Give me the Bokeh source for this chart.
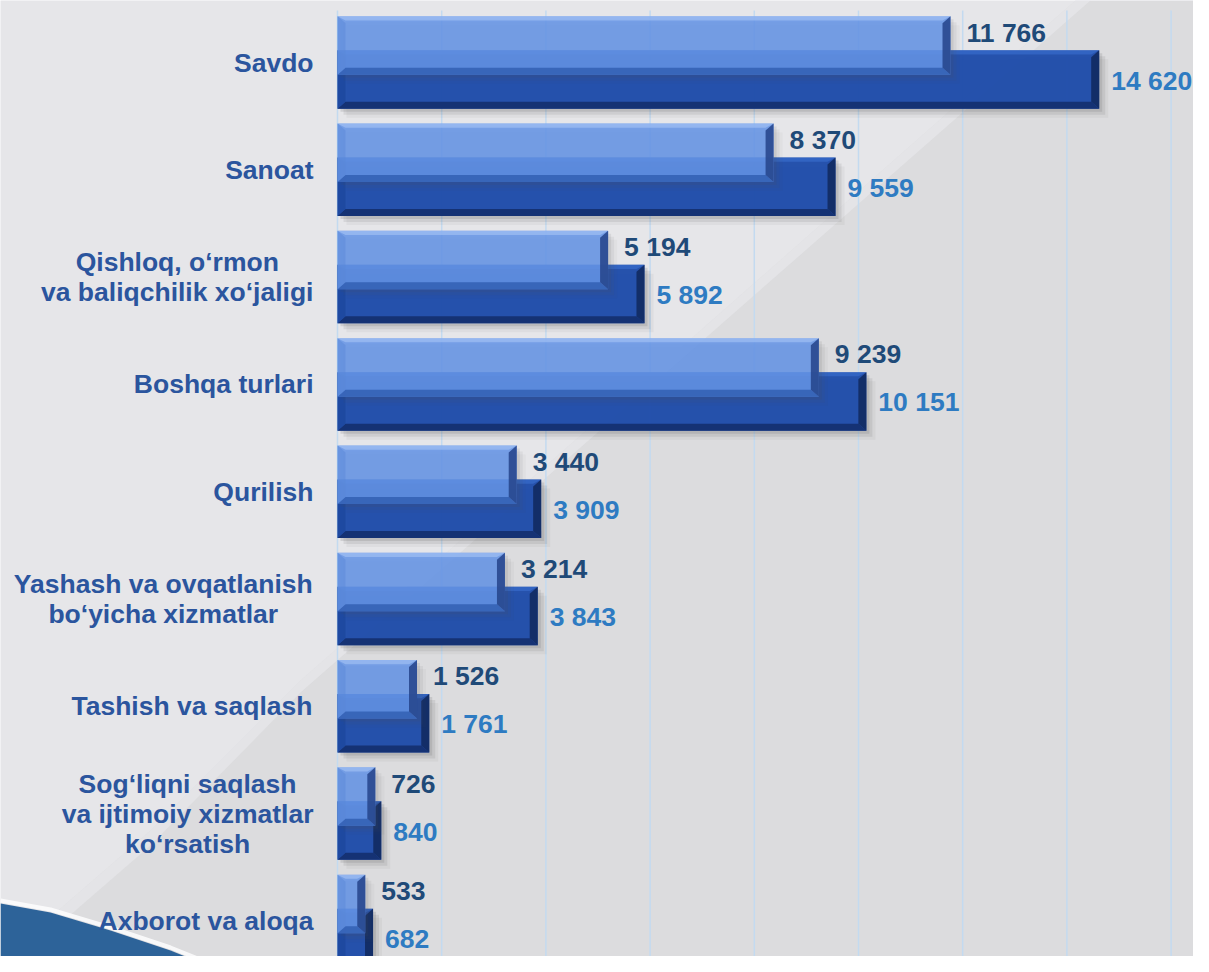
from bokeh.plotting import figure
from bokeh.models import Range1d, ColumnDataSource
from bokeh.core.properties import value
from bokeh.embed import file_html
from bokeh.resources import INLINE

# ---------------- data ----------------
categories = [
    "Savdo",
    "Sanoat",
    "Qishloq, o‘rmon\nva baliqchilik xo‘jaligi",
    "Boshqa turlari",
    "Qurilish",
    "Yashash va ovqatlanish\nbo‘yicha xizmatlar",
    "Tashish va saqlash",
    "Sog‘liqni saqlash\nva ijtimoiy xizmatlar\nko‘rsatish",
    "Axborot va aloqa",
]
series_light = [11766, 8370, 5194, 9239, 3440, 3214, 1526, 726, 533]
series_dark = [14620, 9559, 5892, 10151, 3909, 3843, 1761, 840, 682]
grid_ticks = list(range(0, 16001, 2000))

# ---------------- layout ----------------
W, H = 1193, 956
KX = 0.0521          # px per unit (x)
KY = 107.3           # px per category (y)
X0_PX = 337          # px of value 0 inside the frame
Y0_PX = 62.0         # px of first category centre
XMIN = -X0_PX / KX
XMAX = (W - X0_PX) / KX
YTOP = -Y0_PX / KY
YBOT = (H - Y0_PX) / KY


def dx(px):      # screen px -> data x (decoration only)
    return XMIN + px / KX


def dy(px):      # screen px -> data y (decoration only)
    return YTOP + px / KY


p = figure(width=W, height=H, x_range=Range1d(XMIN, XMAX), y_range=Range1d(YBOT, YTOP),
           output_backend="svg", toolbar_location=None, min_border=0,
           x_axis_location=None, y_axis_location=None)
p.grid.visible = False
p.outline_line_color = None
p.background_fill_color = "#e6e6e9"
p.border_fill_color = "#e6e6e9"

# ---------------- background decoration ----------------
dark_region = [(1075, 0), (1215, 0), (1215, 980), (0, 980), (0, 960), (150, 830), (300, 680), (700, 330)]
p.patch([dx(a) for a, b in dark_region], [dy(b) for a, b in dark_region],
        fill_color="#dcdcde", line_color=None)
streak = [(1075, 0), (1090, 0), (700, 342), (300, 692), (150, 845), (0, 975), (0, 960), (150, 830), (300, 680), (700, 330)]
p.patch([dx(a) for a, b in streak], [dy(b) for a, b in streak],
        fill_color="#ececef", fill_alpha=0.5, line_color=None)
corner = [(0, 903), (50, 912), (110, 930), (170, 950), (232, 975), (0, 975)]
p.patch([dx(a) for a, b in corner], [dy(b) for a, b in corner],
        fill_color="#2d6399", line_color=None)
p.line([dx(a) for a, b in corner[:5]], [dy(b - 3) for a, b in corner[:5]],
       line_color="white", line_width=4, line_alpha=0.8)

# ---------------- grid ----------------
p.segment(x0=grid_ticks, x1=grid_ticks, y0=[dy(10)] * len(grid_ticks), y1=[YBOT + 1] * len(grid_ticks),
          line_color="#c3daf0", line_width=1.5)

# ---------------- bars ----------------
BAR_H = 58.5 / KY
OFF = 17.0 / KY
BX = 8.0 / KX
BY = 7.0 / KY
idx = list(range(len(categories)))


def bevel_sets(vals, yc):
    tops, bots, rights, lefts = ([], []), ([], []), ([], []), ([], [])
    for v, c in zip(vals, yc):
        t, b = c - BAR_H / 2, c + BAR_H / 2
        tops[0].append([0, v, v - BX, BX]); tops[1].append([t, t, t + BY * 0.6, t + BY * 0.6])
        bots[0].append([0, v, v - BX, BX]); bots[1].append([b, b, b - BY, b - BY])
        rights[0].append([v, v, v - BX, v - BX]); rights[1].append([t, b, b - BY, t + BY])
        lefts[0].append([0, 0, BX, BX]); lefts[1].append([t, b, b - BY, t + BY])
    return tops, bots, rights, lefts


def draw_series(vals, yc, face, face_alpha, top_c, bot_c, right_c, left_c, shadow_alpha):
    for k, a in ((3, shadow_alpha), (6, shadow_alpha * 0.7), (9, shadow_alpha * 0.4)):
        p.quad(left=[k / KX] * len(vals), right=[v + k / KX for v in vals],
               top=[c - BAR_H / 2 + k / KY for c in yc], bottom=[c + BAR_H / 2 + k / KY for c in yc],
               fill_color="#505050", fill_alpha=a, line_color=None)
    p.quad(left=[0] * len(vals), right=vals,
           top=[c - BAR_H / 2 for c in yc], bottom=[c + BAR_H / 2 for c in yc],
           fill_color=face, fill_alpha=face_alpha, line_color=None)
    tops, bots, rights, lefts = bevel_sets(vals, yc)
    p.patches(xs=tops[0], ys=tops[1], fill_color=top_c[0], fill_alpha=top_c[1], line_color=None)
    p.patches(xs=bots[0], ys=bots[1], fill_color=bot_c[0], fill_alpha=bot_c[1], line_color=None)
    p.patches(xs=lefts[0], ys=lefts[1], fill_color=left_c[0], fill_alpha=left_c[1], line_color=None)
    p.patches(xs=rights[0], ys=rights[1], fill_color=right_c[0], fill_alpha=right_c[1], line_color=None)


y_dark = [i + OFF for i in idx]
y_light = [i - OFF for i in idx]

draw_series(series_dark, y_dark, "#1f4dab", 0.96,
            ("#3a6fd0", 0.6), ("#142f6e", 0.9), ("#122a60", 0.9), ("#1d479e", 0.8), 0.15)
draw_series(series_light, y_light, "#6494e8", 0.85,
            ("#a6c4f5", 0.6), ("#2f5db0", 0.8), ("#24438a", 0.85), ("#5a88d8", 0.5), 0.10)

# ---------------- value labels ----------------
def fmt(v):
    return f"{v:,}".replace(",", " ")


FONT = value("Liberation Sans")
p.text(x=series_light, y=y_light, text=[fmt(v) for v in series_light],
       x_offset=16, y_offset=-13, text_font=FONT, text_font_style="bold",
       text_font_size="26.5px", text_color="#1f4a78", text_baseline="middle", text_align="left")
p.text(x=series_dark, y=y_dark, text=[fmt(v) for v in series_dark],
       x_offset=12, y_offset=1, text_font=FONT, text_font_style="bold",
       text_font_size="26.5px", text_color="#2e7bc2", text_baseline="middle", text_align="left")

# ---------------- category labels (centred lines, block right-aligned) ----------------
AW = {' ': 278, ',': 278, '‘': 278, 'a': 556, 'b': 611, 'c': 556, 'd': 611, 'e': 556, 'f': 333,
      'g': 611, 'h': 611, 'i': 278, 'j': 278, 'k': 556, 'l': 278, 'm': 889, 'n': 611, 'o': 611,
      'p': 611, 'q': 611, 'r': 389, 's': 556, 't': 333, 'u': 611, 'v': 556, 'w': 778, 'x': 556,
      'y': 556, 'z': 500, 'A': 722, 'B': 722, 'Q': 778, 'S': 667, 'T': 611, 'Y': 667}
FS = 26.5
LINE_H = 30.0


def text_w(s):
    return sum(AW.get(ch, 600) for ch in s) / 1000.0 * FS


lx, ly, lt, lxo, lyo = [], [], [], [], []
for i, cat in enumerate(categories):
    lines = cat.split("\n")
    bw = max(text_w(s) for s in lines)
    n = len(lines)
    for j, s in enumerate(lines):
        lx.append(dx(313)); ly.append(i); lt.append(s)
        lxo.append(-bw / 2); lyo.append((j - (n - 1) / 2) * LINE_H)

src = ColumnDataSource(dict(x=lx, y=ly, text=lt, xo=lxo, yo=lyo))
p.text(x="x", y="y", text="text", x_offset="xo", y_offset="yo", source=src,
       text_font=FONT, text_font_style="bold", text_font_size="26.5px",
       text_color="#2b559e", text_align="center", text_baseline="middle")

open("out.html", "w").write(file_html(p, INLINE))
